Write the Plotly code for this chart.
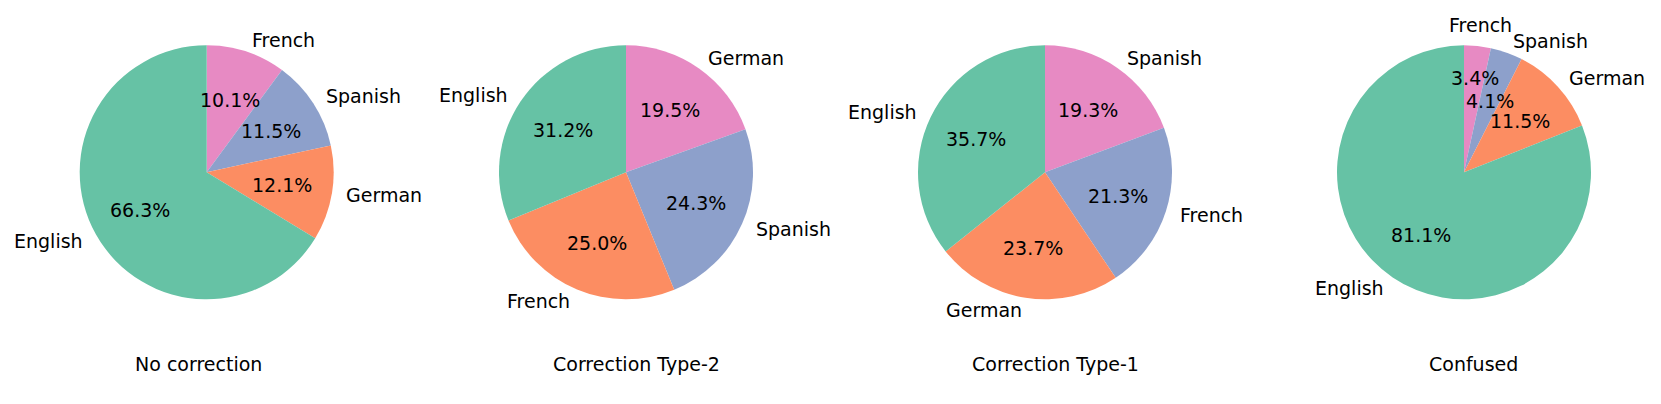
import math
import plotly.graph_objects as go

# ---- data ----
titles = ["No correction", "Correction Type-2", "Correction Type-1", "Confused"]
labels_no_correction = ["English", "German", "Spanish", "French"]
values_no_correction = [66.3, 12.1, 11.5, 10.1]
labels_type2 = ["English", "French", "Spanish", "German"]
values_type2 = [31.2, 25.0, 24.3, 19.5]
labels_type1 = ["English", "German", "French", "Spanish"]
values_type1 = [35.7, 23.7, 21.3, 19.3]
labels_confused = ["English", "German", "Spanish", "French"]
values_confused = [81.1, 11.5, 4.1, 3.4]

all_labels = [labels_no_correction, labels_type2, labels_type1, labels_confused]
all_values = [values_no_correction, values_type2, values_type1, values_confused]

colors = ["#66c2a5", "#fc8d62", "#8da0cb", "#e78ac3"]

# ---- layout geometry (pixels) ----
W, H = 1661, 404
R = 127.0
centers_x = [206.7, 626.0, 1045.0, 1464.0]
center_y = 172.3
title_x = [198.5, 636.0, 1055.0, 1473.5]
title_y = 364.0
FONT = "DejaVu Sans"
FS = 19

# small text nudges (pixels) to keep crowded labels apart, as in the reference
label_nudge = {(3, "French"): (2, -8, "center")}
pct_nudge = {(3, "French"): (3, -19)}

fig = go.Figure()
annotations = []

for i in range(4):
    cx = centers_x[i]
    labs = all_labels[i]
    vals = all_values[i]
    # slices go counter-clockwise from 12 o'clock; drawn clockwise in reverse order
    fig.add_trace(go.Pie(
        labels=labs[::-1],
        values=vals[::-1],
        sort=False,
        direction="clockwise",
        rotation=0,
        marker=dict(colors=colors[:len(labs)][::-1], line=dict(width=0)),
        textinfo="none",
        hoverinfo="label+percent",
        showlegend=False,
        domain=dict(x=[(cx - R) / W, (cx + R) / W],
                    y=[(H - center_y - R) / H, (H - center_y + R) / H]),
    ))
    total = sum(vals)
    cum = 0.0
    for lab, v in zip(labs, vals):
        frac = v / total
        theta = math.radians(90 + 360 * (cum + frac / 2))
        cum += frac
        c, s = math.cos(theta), math.sin(theta)
        # outer label at 1.1 R
        lx = cx + 1.1 * R * c
        ly = center_y - 1.1 * R * s
        anchor = "left" if c > 0 else "right"
        if (i, lab) in label_nudge:
            dx, dy, anchor = label_nudge[(i, lab)]
            lx += dx
            ly += dy
        annotations.append(dict(
            x=lx / W, y=1 - ly / H, xref="paper", yref="paper",
            text=lab, showarrow=False,
            xanchor=anchor, yanchor="middle",
            font=dict(family=FONT, size=FS, color="black"),
        ))
        # percent label at 0.6 R
        px = cx + 0.6 * R * c
        py = center_y - 0.6 * R * s
        if (i, lab) in pct_nudge:
            dx, dy = pct_nudge[(i, lab)]
            px += dx
            py += dy
        annotations.append(dict(
            x=px / W, y=1 - py / H, xref="paper", yref="paper",
            text=f"{v:.1f}%", showarrow=False,
            xanchor="center", yanchor="middle",
            font=dict(family=FONT, size=FS, color="black"),
        ))
    annotations.append(dict(
        x=title_x[i] / W, y=1 - title_y / H, xref="paper", yref="paper",
        text=titles[i], showarrow=False,
        xanchor="center", yanchor="middle",
        font=dict(family=FONT, size=FS, color="black"),
    ))

fig.update_layout(
    width=W, height=H,
    margin=dict(l=0, r=0, t=0, b=0),
    paper_bgcolor="white",
    plot_bgcolor="white",
    showlegend=False,
    annotations=annotations,
)

fig.write_html("out.html", config={"displayModeBar": False},
               post_script="document.body.style.margin='0';")
